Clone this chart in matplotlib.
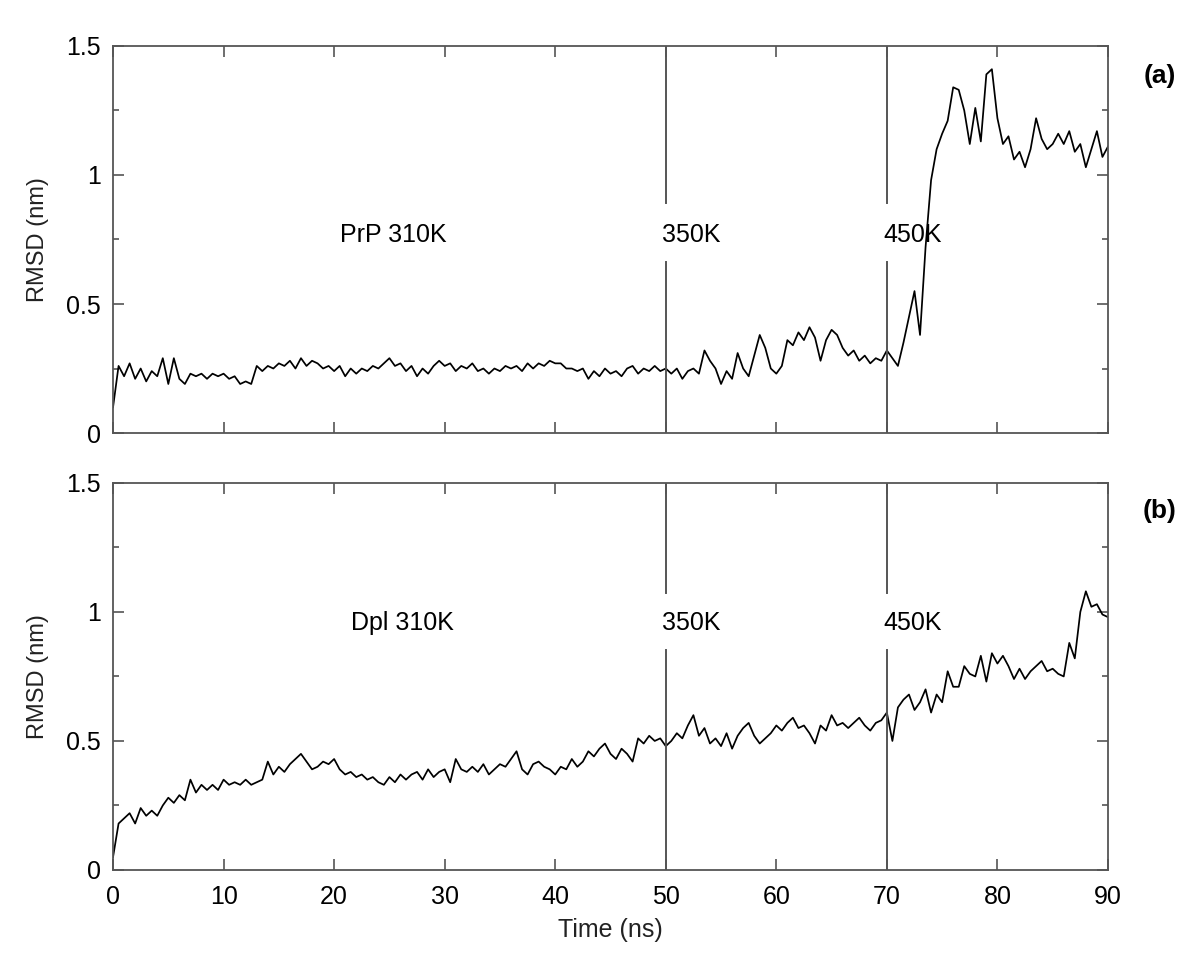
import numpy as np
import matplotlib
matplotlib.use("Agg")
import matplotlib.pyplot as plt
from matplotlib.ticker import MultipleLocator, FuncFormatter

# time axis (ns), sampled every 0.5 ns
time_ns = np.linspace(0, 90, 181)

# (a) PrP RMSD (nm)
prp_rmsd = [
    0.10, 0.26, 0.22, 0.27, 0.21, 0.25, 0.20, 0.24, 0.22, 0.29,
    0.19, 0.29, 0.21, 0.19, 0.23, 0.22, 0.23, 0.21, 0.23, 0.22,
    0.23, 0.21, 0.22, 0.19, 0.20, 0.19, 0.26, 0.24, 0.26, 0.25,
    0.27, 0.26, 0.28, 0.25, 0.29, 0.26, 0.28, 0.27, 0.25, 0.26,
    0.24, 0.26, 0.22, 0.25, 0.23, 0.25, 0.24, 0.26, 0.25, 0.27,
    0.29, 0.26, 0.27, 0.24, 0.26, 0.22, 0.25, 0.23, 0.26, 0.28,
    0.26, 0.27, 0.24, 0.26, 0.25, 0.27, 0.24, 0.25, 0.23, 0.25,
    0.24, 0.26, 0.25, 0.26, 0.24, 0.27, 0.25, 0.27, 0.26, 0.28,
    0.27, 0.27, 0.25, 0.25, 0.24, 0.25, 0.21, 0.24, 0.22, 0.25,
    0.23, 0.24, 0.22, 0.25, 0.26, 0.23, 0.25, 0.24, 0.26, 0.24,
    0.25, 0.23, 0.25, 0.21, 0.24, 0.25, 0.23, 0.32, 0.28, 0.25,
    0.19, 0.24, 0.21, 0.31, 0.25, 0.22, 0.30, 0.38, 0.33, 0.25,
    0.23, 0.26, 0.36, 0.34, 0.39, 0.36, 0.41, 0.37, 0.28, 0.36,
    0.40, 0.38, 0.33, 0.30, 0.32, 0.28, 0.30, 0.27, 0.29, 0.28,
    0.32, 0.29, 0.26, 0.35, 0.45, 0.55, 0.38, 0.72, 0.98, 1.10,
    1.16, 1.21, 1.34, 1.33, 1.25, 1.12, 1.26, 1.13, 1.39, 1.41,
    1.22, 1.12, 1.15, 1.06, 1.09, 1.03, 1.10, 1.22, 1.14, 1.10,
    1.12, 1.16, 1.12, 1.17, 1.09, 1.12, 1.03, 1.10, 1.17, 1.07,
    1.11,
]

# (b) Dpl RMSD (nm)
dpl_rmsd = [
    0.05, 0.18, 0.20, 0.22, 0.18, 0.24, 0.21, 0.23, 0.21, 0.25,
    0.28, 0.26, 0.29, 0.27, 0.35, 0.30, 0.33, 0.31, 0.33, 0.31,
    0.35, 0.33, 0.34, 0.33, 0.35, 0.33, 0.34, 0.35, 0.42, 0.37,
    0.40, 0.38, 0.41, 0.43, 0.45, 0.42, 0.39, 0.40, 0.42, 0.41,
    0.43, 0.39, 0.37, 0.38, 0.36, 0.37, 0.35, 0.36, 0.34, 0.33,
    0.36, 0.34, 0.37, 0.35, 0.37, 0.38, 0.35, 0.39, 0.36, 0.38,
    0.39, 0.34, 0.43, 0.39, 0.38, 0.40, 0.38, 0.41, 0.37, 0.39,
    0.41, 0.40, 0.43, 0.46, 0.39, 0.37, 0.41, 0.42, 0.40, 0.39,
    0.37, 0.40, 0.39, 0.43, 0.40, 0.42, 0.46, 0.44, 0.47, 0.49,
    0.45, 0.43, 0.47, 0.45, 0.42, 0.51, 0.49, 0.52, 0.50, 0.51,
    0.48, 0.50, 0.53, 0.51, 0.56, 0.60, 0.52, 0.55, 0.49, 0.51,
    0.48, 0.53, 0.47, 0.52, 0.55, 0.57, 0.52, 0.49, 0.51, 0.53,
    0.56, 0.54, 0.57, 0.59, 0.55, 0.56, 0.53, 0.49, 0.56, 0.54,
    0.60, 0.56, 0.57, 0.55, 0.57, 0.59, 0.56, 0.54, 0.57, 0.58,
    0.61, 0.50, 0.63, 0.66, 0.68, 0.62, 0.65, 0.70, 0.61, 0.68,
    0.65, 0.77, 0.71, 0.71, 0.79, 0.76, 0.75, 0.83, 0.73, 0.84,
    0.80, 0.83, 0.79, 0.74, 0.78, 0.74, 0.77, 0.79, 0.81, 0.77,
    0.78, 0.76, 0.75, 0.88, 0.82, 1.00, 1.08, 1.02, 1.03, 0.99,
    0.98,
]

switch_times = [50, 70]
switch_labels = ["350K", "450K"]
start_labels = ["PrP 310K", "Dpl 310K"]
panel_tags = ["(a)", "(b)"]

plt.rcParams["font.family"] = ["Liberation Sans", "DejaVu Sans"]
spine_col = "#555555"

fig = plt.figure(figsize=(12, 9.58), dpi=100)
ax_a = fig.add_axes([0.0942, 0.548, 0.8291, 0.404])
ax_b = fig.add_axes([0.0942, 0.0919, 0.8291, 0.404])


def fmt_y(v, pos):
    return f"{v:g}"


def style_axes(ax, show_x):
    ax.set_xlim(0, 90)
    ax.set_ylim(0, 1.5)
    ax.xaxis.set_major_locator(MultipleLocator(10))
    ax.yaxis.set_major_locator(MultipleLocator(0.5))
    ax.yaxis.set_minor_locator(MultipleLocator(0.25))
    ax.yaxis.set_major_formatter(FuncFormatter(fmt_y))
    ax.tick_params(which="both", direction="in", top=True, right=True,
                   color=spine_col, width=1.2)
    ax.tick_params(which="major", length=8)
    ax.tick_params(axis="y", which="major", labelsize=18, pad=9)
    ax.tick_params(axis="x", which="major", labelsize=18, pad=11)
    ax.tick_params(which="minor", length=4)
    for s in ax.spines.values():
        s.set_color(spine_col)
        s.set_linewidth(1.3)
    ax.set_ylabel("RMSD (nm)", fontsize=17, labelpad=12, color="#222222")
    if not show_x:
        ax.tick_params(axis="x", labelbottom=False)


# gaps in the vertical marker lines, in axes fraction (where the labels sit)
gaps = [(0.442, 0.594), (0.568, 0.716)]
label_y = [0.767, 0.957]
label_x0 = [20.5, 21.5]

for ax, series, gap, ly, lx, lab, show_x in zip(
        [ax_a, ax_b], [prp_rmsd, dpl_rmsd], gaps, label_y, label_x0,
        start_labels, [False, True]):
    ax.plot(time_ns, series, color="black", lw=1.25)
    for t, sl in zip(switch_times, switch_labels):
        ax.axvline(t, ymin=0, ymax=gap[0], color=spine_col, lw=1.4)
        ax.axvline(t, ymin=gap[1], ymax=1, color=spine_col, lw=1.4)
        ax.text(t - 0.35, ly, sl, fontsize=18, va="center", ha="left")
    ax.text(lx, ly, lab, fontsize=18, va="center", ha="left")
    style_axes(ax, show_x)

fig.text(0.9667, 0.921, panel_tags[0], fontsize=19, fontweight="bold",
         ha="center", va="center")
fig.text(0.9667, 0.467, panel_tags[1], fontsize=19, fontweight="bold",
         ha="center", va="center")

ax_b.set_xlabel("Time (ns)", fontsize=18, labelpad=6, color="#222222")

fig.savefig("out.png", dpi=100)
